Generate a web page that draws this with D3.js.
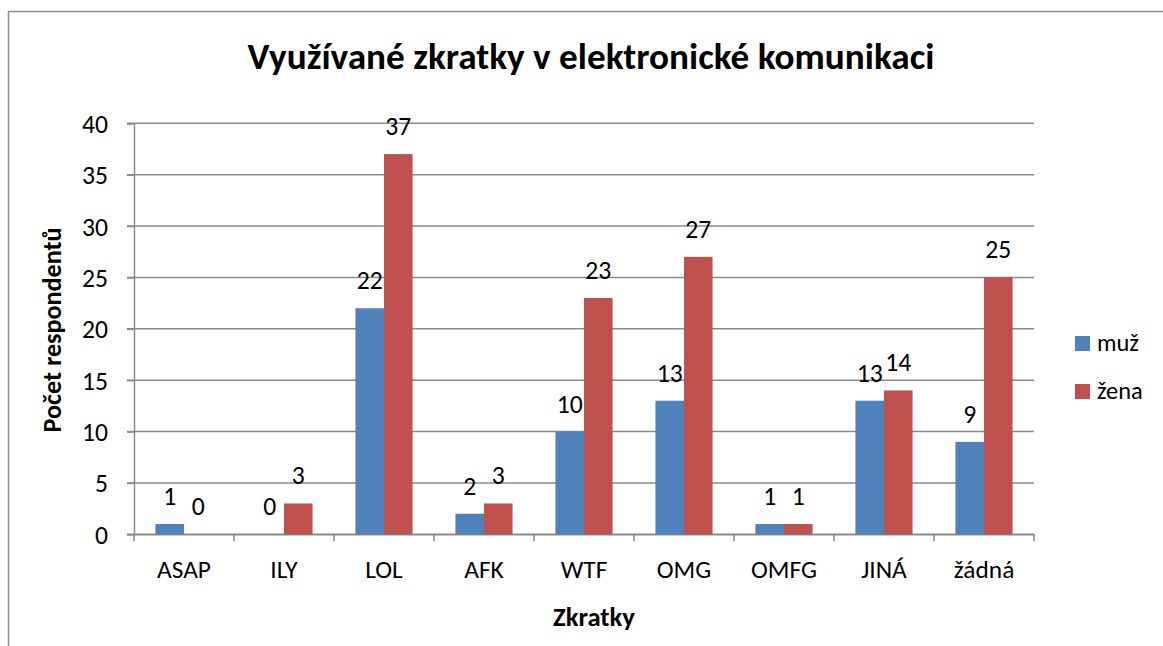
<!DOCTYPE html>
<html><head><meta charset="utf-8">
<script src="https://cdn.jsdelivr.net/npm/d3@7"></script>
<style>body{margin:0;background:#fff}svg{display:block}text{font-family:Carlito,Calibri,Lato,"Open Sans",sans-serif;fill:#000}</style>
</head><body><svg id="c" width="1163" height="646"></svg>
<script>
const categories = ["ASAP","ILY","LOL","AFK","WTF","OMG","OMFG","JINÁ","žádná"];
const seriesNames = ["muž","žena"];
const muz = [1,0,22,2,10,13,1,13,9];
const zena = [0,3,37,3,23,27,1,14,25];
const yTicks = [0,5,10,15,20,25,30,35,40];
const colors = ["#4F81BD","#C0504D"];
const title = "Využívané zkratky v elektronické komunikaci";
const xTitle = "Zkratky";
const yTitle = "Počet respondentů";

const svg = d3.select("#c");
const FF = "Carlito,Calibri,Lato,sans-serif";

// measure helper: font size so that a string reaches a target width
function fitSize(str, target, weight) {
  const t = svg.append("text").attr("font-size",20).attr("font-weight",weight||"normal").text(str);
  const w = t.node().getComputedTextLength();
  t.remove();
  return w > 0 ? 20 * target / w : 20;
}
const numSize = fitSize("40", 26);
const catSize = fitSize("ASAP", 54);
const legSize = fitSize("muž", 42);

// outer chart border
svg.append("rect").attr("x",8.5).attr("y",11.5).attr("width",1200).attr("height",700)
  .attr("fill","#fff").attr("stroke","#8c8c8c").attr("stroke-width",1.5);

const L=134, R=1034, T=123.3, B=534.3;
const x = d3.scaleBand().domain(categories).range([L,R]).paddingInner(0).paddingOuter(0);
const y = d3.scaleLinear().domain([0,40]).range([B,T]);
const inner = d3.scaleBand().domain(seriesNames).range([0,x.bandwidth()]).paddingInner(0).paddingOuter(0.75);

// gridlines
svg.append("g").selectAll("line").data(yTicks).join("line")
  .attr("x1",L-7).attr("x2",R).attr("y1",d=>y(d)).attr("y2",d=>y(d))
  .attr("stroke","#8a8a8a").attr("stroke-width",1.5);

// y axis
const ya = svg.append("g").attr("transform",`translate(${L},0)`)
  .call(d3.axisLeft(y).tickValues(yTicks).tickSize(7).tickPadding(19));
ya.select(".domain").attr("stroke","#8a8a8a").attr("stroke-width",1.5);
ya.selectAll(".tick line").attr("stroke","#8a8a8a").attr("stroke-width",1.5);
ya.selectAll("text").attr("font-size",numSize).attr("font-family",FF).attr("dy","0.35em");

// x axis
const xa = svg.append("g").attr("transform",`translate(0,${B})`)
  .call(d3.axisBottom(x).tickSize(0).tickPadding(26));
xa.select(".domain").attr("stroke","#8a8a8a").attr("stroke-width",1.5);
xa.selectAll("text").attr("font-size",catSize).attr("font-family",FF);
// category boundary ticks
const bounds = categories.map(c=>x(c)).concat([R]);
svg.append("g").selectAll("line").data(bounds).join("line")
  .attr("x1",d=>d).attr("x2",d=>d).attr("y1",B).attr("y2",B+7)
  .attr("stroke","#8a8a8a").attr("stroke-width",1.5);

// bars
const series = [muz, zena];
series.forEach((vals,si)=>{
  const g = svg.append("g");
  g.selectAll("rect").data(categories).join("rect")
    .attr("x",(c)=>x(c)+inner(seriesNames[si]))
    .attr("width",inner.bandwidth())
    .attr("y",(c,i)=>y(vals[i]))
    .attr("height",(c,i)=>B-y(vals[i]))
    .attr("fill",colors[si]);
  g.selectAll("text").data(categories).join("text")
    .attr("x",(c)=>x(c)+inner(seriesNames[si])+inner.bandwidth()/2)
    .attr("y",(c,i)=>y(vals[i])-19)
    .attr("text-anchor","middle").attr("font-size",numSize)
    .text((c,i)=>vals[i]);
});

// title
const tt = svg.append("text").attr("x",591).attr("y",69).attr("text-anchor","middle")
  .attr("font-size",fitSize(title,687,"bold")).attr("font-weight","bold").text(title);

// axis titles
svg.append("text").attr("x",594).attr("y",626).attr("text-anchor","middle")
  .attr("font-size",fitSize(xTitle,82,"bold")).attr("font-weight","bold").text(xTitle);
svg.append("text").attr("transform","translate(61,330) rotate(-90)")
  .attr("text-anchor","middle").attr("font-size",fitSize(yTitle,205,"bold")).attr("font-weight","bold").text(yTitle);

// legend
const lg = svg.append("g");
seriesNames.forEach((n,i)=>{
  const yy = 343.5 + i*48;
  lg.append("rect").attr("x",1075).attr("y",yy-7.5).attr("width",15).attr("height",15).attr("fill",colors[i]);
  lg.append("text").attr("x",1097).attr("y",yy+7.5).attr("font-size",legSize).text(n);
});
</script></body></html>
